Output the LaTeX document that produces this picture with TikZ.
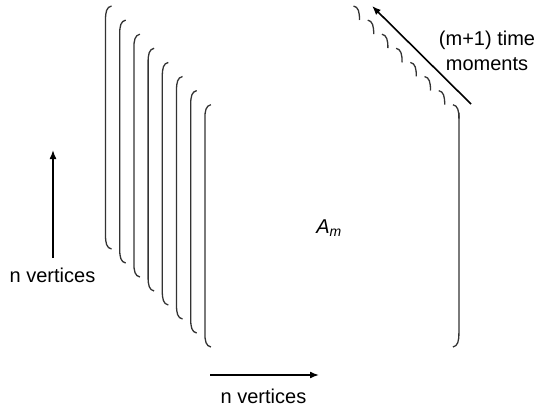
\documentclass[tikz,border=0pt]{standalone}
\usepackage{fontspec}
\setmainfont{Liberation Sans}
\usetikzlibrary{arrows.meta}

\begin{document}
\begin{tikzpicture}[
        x=1pt, y=-1pt,
        bracket/.style={draw=black!80, line width=1.3pt},
        dir arrow/.style={draw, line width=1.6pt, -{Latex[length=9pt,width=7pt]}},
        caption/.style={font=\fontsize{20}{25}\selectfont, align=center, inner sep=0pt}
    ]
    \useasboundingbox (0,0) rectangle (537,412);
    % stack of matrices, back to front
    \foreach \k in {0,...,7} {
        \pgfmathsetmacro{\lx}{105.5+14.2*\k}
        \pgfmathsetmacro{\rx}{359.5+14.2*\k}
        \pgfmathsetmacro{\ty}{6+14.1*\k}
        \pgfmathsetmacro{\by}{249+14*\k}
        \draw[bracket] (\lx+6,\ty) .. controls (\lx+1,\ty+1) and (\lx,\ty+6) .. (\lx,\ty+14)
            -- (\lx,\by-14) .. controls (\lx,\by-6) and (\lx+1,\by-1) .. (\lx+6,\by);
        \draw[bracket] (\rx-6,\ty) .. controls (\rx-1,\ty+1) and (\rx,\ty+6) .. (\rx,\ty+14);
    }
    % front matrix, rest of the right bracket
    \draw[bracket] (458.9,112.7) -- (458.9,333) .. controls (458.9,341) and (457.9,346) .. (452.9,347);
    \node (amat) at (329,228) {\fontsize{20}{24}\selectfont\itshape A\textsubscript{m}};

    % time axis
    \coordinate (t0) at (471,104);
    \coordinate (t1) at (372,6);
    \draw[dir arrow] (t0) -- (t1);
    \node[caption] (tlabel) at (487,51) {(m+1) time\\moments};

    % row axis
    \coordinate (v0) at (53,258);
    \coordinate (v1) at (53,150);
    \draw[dir arrow] (v0) -- (v1);
    \node[caption, anchor=base] (vlabel) at (52.5,282) {n vertices};

    % column axis
    \coordinate (h0) at (210,375);
    \coordinate (h1) at (319,375);
    \draw[dir arrow] (h0) -- (h1);
    \node[caption, anchor=base] (hlabel) at (263.5,403) {n vertices};
\end{tikzpicture}
\end{document}
